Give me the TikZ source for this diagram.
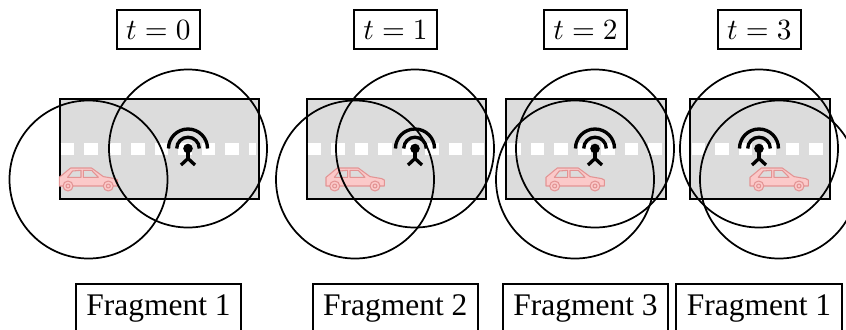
\documentclass[tikz,border=0pt]{standalone}
\usepackage[no-math]{fontspec}
\usepackage{graphicx}
\newfontfamily\fragfont{Liberation Serif}
\definecolor{roadgray}{HTML}{DCDCDC}
\definecolor{carfill}{HTML}{FBC9C9}
\definecolor{carline}{HTML}{E39494}
\tikzset{
  px/.style={x=0.75pt,y=-0.75pt},
  roadbox/.style={draw=black,line width=1.5pt,fill=roadgray,inner sep=0pt,minimum height=75pt,anchor=west},
  dashline/.style={draw=white,line width=9pt,dash pattern=on 10.1pt off 7.525pt},
  radiorange/.style={draw=black,line width=1.3pt},
  aerial/.style={draw=black,line width=2.5pt},
  timebox/.style={draw=black,line width=1.4pt,inner sep=0pt,anchor=base,minimum width=62pt,text height=21.7pt,text depth=7.6pt},
  fragbox/.style={draw=black,line width=1.4pt,inner sep=0pt,anchor=base,minimum width=124pt,text height=23pt,text depth=40pt,font=\fragfont\fontsize{23.6}{28}\selectfont},
  carbody/.style={draw=carline,line width=0.8pt,fill=carfill,line join=round},
  carwin/.style={draw=carline,line width=0.8pt,fill=roadgray,line join=round},
}
\newcommand{\caricon}[1]{%
  \begin{scope}[shift={(#1,167.3)}]
    \path[carbody] (0,10) -- (11.3,.7) -- (32.3,.7) -- (44,9.3) -- (55.7,11.3) -- (58.3,12.7) -- (58.3,18.7) -- (0,18.7) -- cycle;
    \path[carwin] (8.3,10) -- (13.3,3.7) -- (21.7,3) -- (21.7,10) -- cycle;
    \path[carwin] (24,3) -- (32.3,3) -- (39,10) -- (24,10) -- cycle;
    \path[carbody] (8.7,18.7) circle[radius=5];
    \path[carbody] (8.7,18.7) circle[radius=2];
    \path[carbody] (49,18.7) circle[radius=5];
    \path[carbody] (49,18.7) circle[radius=2];
  \end{scope}}
\newcommand{\towericon}[1]{%
  \begin{scope}[shift={(#1,148.5)}]
    \draw[aerial] (-19.5,0) arc[start angle=180,end angle=360,radius=19.5];
    \draw[aerial] (-11.3,0) arc[start angle=180,end angle=360,radius=11.3];
    \fill[black] (0,0) circle[radius=4.8];
    \draw[aerial] (0,0) -- (0,10);
    \draw[aerial] (-7,16.5) -- (0,10) -- (7,16.5);
  \end{scope}}
\newcommand{\scene}[8]{%
  \node[roadbox,minimum width=#2*0.75pt] (road#8) at (#1,149.2) {};
  \draw[dashline] (#3,149.3) -- (#4,149.3);
  \caricon{#6}
  \towericon{#5}
  \draw[radiorange] (#7,179.5) circle[radius=79];
  \draw[radiorange] (#5,148.5) circle[radius=79];
}
\newcommand{\tlabel}[1]{\scalebox{2.2}{$t=#1$}}
\begin{document}
\begin{tikzpicture}[px]
\clip (0,0) rectangle (846,329);
\fill[white] (0,0) rectangle (846,329);
\scene{59.3}{198.7}{60.7}{256}{188}{59.3}{88.5}{a}
\scene{306.2}{179}{307.7}{483.5}{415}{326}{355}{b}
\scene{505.4}{159.4}{507.3}{662.8}{595}{546}{575}{c}
\scene{689.4}{139.6}{691.7}{827}{759}{750}{779}{d}
\node[timebox] (ta) at (158.3,39) {\tlabel{0}};
\node[timebox] (tb) at (395.5,39) {\tlabel{1}};
\node[timebox] (tc) at (585.5,39) {\tlabel{2}};
\node[timebox] (td) at (759.3,39) {\tlabel{3}};
\node[fragbox] (fa) at (158.5,315) {Fragment 1};
\node[fragbox] (fb) at (395.3,315) {Fragment 2};
\node[fragbox] (fc) at (585.5,315) {Fragment 3};
\node[fragbox] (fd) at (759,315) {Fragment 1};
\end{tikzpicture}
\end{document}
